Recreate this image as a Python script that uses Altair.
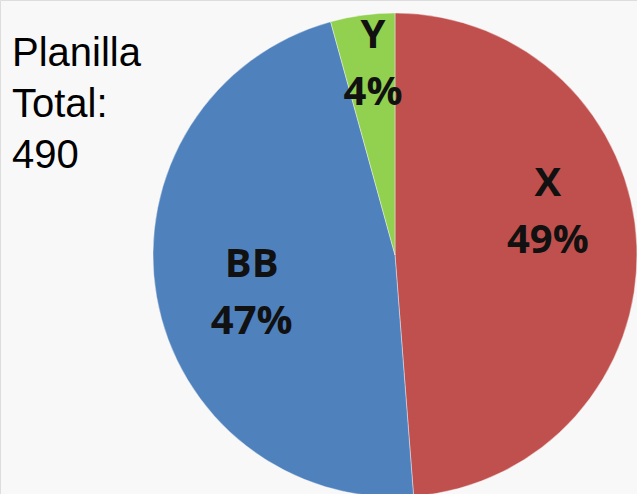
import altair as alt
import pandas as pd

categories = ["X", "BB", "Y"]
counts = [239, 230, 21]
pct_labels = ["49%", "47%", "4%"]
colors = ["#C0504D", "#4F81BD", "#92D050"]
title_lines = ["Planilla", "Total:", "490"]

total = sum(counts)
df = pd.DataFrame({"cat": categories, "count": counts, "pct": pct_labels,
                   "order": list(range(len(categories)))})

CX, CY, R = 395, 255, 242
# label placement tweaks (angle shift in count units, radius in px)
ang_shift = {"X": -18.8, "BB": -6.3, "Y": 1.6}
lab_radius = {"X": 159, "BB": 148, "Y": 193}
shift_expr = " : ".join([f"datum.cat == '{k}' ? {v}" for k, v in ang_shift.items()]) + " : 0"
rad_expr = " : ".join([f"datum.cat == '{k}' ? {v}" for k, v in lab_radius.items()]) + " : 150"

base = alt.Chart(df).transform_window(
    cum_end="sum(count)", sort=[alt.SortField("order")], frame=[None, 0]
).transform_calculate(
    cum_start="datum.cum_end - datum.count",
    lab=f"datum.cum_end - datum.count/2 + ({shift_expr})",
    lrad=rad_expr,
    txt="datum.cat + '\\n' + datum.pct",
)

theta_scale = alt.Scale(domain=[0, total], range=[0, 6.283185307179586])

arcs = base.mark_arc(radius=R, stroke="#ffffff", strokeWidth=0.4).encode(
    theta=alt.Theta("cum_start:Q", scale=theta_scale),
    theta2="cum_end:Q",
    color=alt.Color("cat:N", scale=alt.Scale(domain=categories, range=colors), legend=None),
    x=alt.value(CX),
    y=alt.value(CY),
)

labels = base.mark_text(
    font="Open Sans", fontWeight="bold", fontSize=40, lineBreak="\n", lineHeight=57,
    color="#111111", align="center", baseline="middle", dy=-27,
).encode(
    theta=alt.Theta("lab:Q", scale=theta_scale),
    radius=alt.Radius("lrad:Q", scale=None),
    text="txt:N",
    x=alt.value(CX),
    y=alt.value(CY),
)

title = alt.Chart(pd.DataFrame({"t": ["\n".join(title_lines)]})).mark_text(
    font="Liberation Sans", fontSize=40, lineBreak="\n", lineHeight=51,
    align="left", baseline="alphabetic", color="#000000",
).encode(text="t:N", x=alt.value(12), y=alt.value(66))

chart = alt.layer(arcs, labels, title).resolve_scale(radius="independent").properties(
    width=637, height=494,
    autosize=alt.AutoSizeParams(type="none"),
    padding=0,
).configure_view(stroke=None).configure(background="#f8f8f8")

chart.save("out.html", embed_options={"renderer": "svg", "actions": False})
